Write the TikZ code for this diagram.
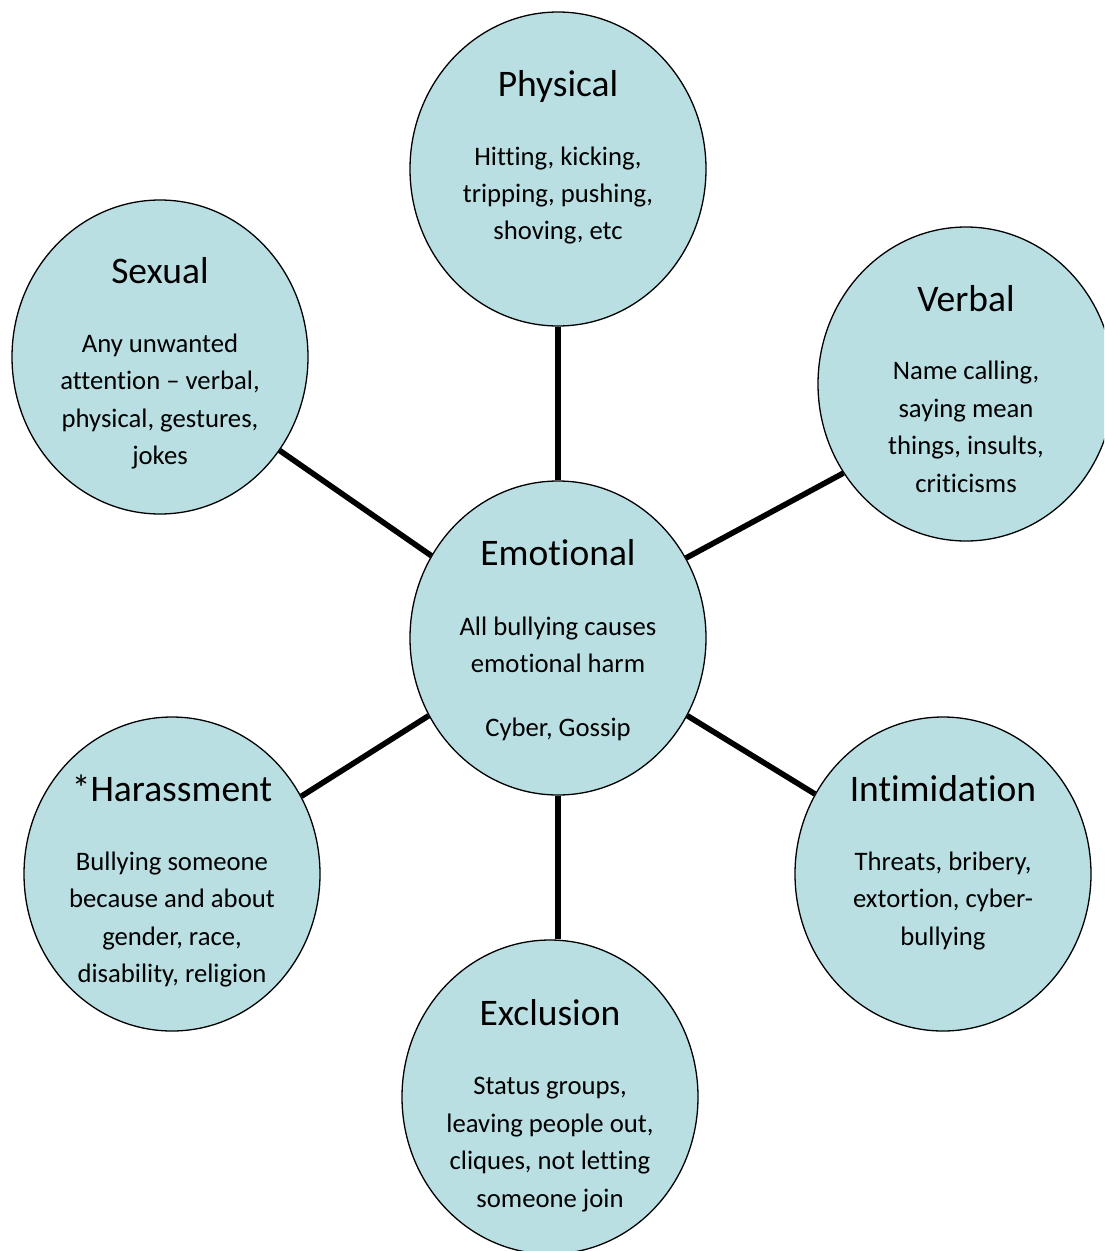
\documentclass[tikz,border=0pt]{standalone}
\usepackage{fontspec}
\setmainfont{Carlito}[Ligatures={NoCommon}]
\usetikzlibrary{shapes.geometric}
\definecolor{bubble}{RGB}{185,223,227}
\tikzset{
  bub/.style={ellipse, draw=black, line width=1.3pt, fill=bubble, inner sep=0pt,
              minimum width=296pt, minimum height=314pt},
  ttl/.style={anchor=base, inner sep=0pt, font=\fontsize{37.5}{40}\selectfont},
  txt/.style={anchor=base, inner sep=0pt, font=\fontsize{26.7}{30}\selectfont},
  link/.style={line width=5.6pt, black}
}
\begin{document}
\begin{tikzpicture}[x=1pt,y=-1pt]
\clip (0,0) rectangle (1104,1251);
\fill[white] (0,0) rectangle (1104,1251);
% bubbles
\node[bub] (phys) at (558,169) {};
\node[bub] (sex)  at (160,357) {};
\node[bub] (verb) at (966,384) {};
\node[bub] (emo)  at (558,638) {};
\node[bub] (har)  at (172,874) {};
\node[bub] (intim) at (943,874) {};
\node[bub] (excl) at (550,1097) {};
% connectors
\draw[link] (emo.90) -- (phys.270);
\draw[link] (emo.147.8) -- (sex.-38.8);
\draw[link] (emo.32) -- (verb.216.6);
\draw[link] (emo.211.7) -- (har.31);
\draw[link] (emo.-31.3) -- (intim.148.6);
\coordinate (exTop) at (emo.south |- excl.north);
\draw[link] (emo.south) -- (exTop);
% Physical
\node[ttl] (physT) at (558,96) {Physical};
\node[txt] (phys1) at (558,165) {Hitting, kicking,};
\node[txt] (phys2) at (558,202) {tripping, pushing,};
\node[txt] (phys3) at (558,239) {shoving, etc};
% Sexual
\node[ttl] (sexT) at (160,283) {Sexual};
\node[txt] (sex1) at (160,352) {Any unwanted};
\node[txt] (sex2) at (160,389) {attention – verbal,};
\node[txt] (sex3) at (160,427) {physical, gestures,};
\node[txt] (sex4) at (160,464) {jokes};
% Verbal
\node[ttl] (verbT) at (966,311) {Verbal};
\node[txt] (verb1) at (966,379) {Name calling,};
\node[txt] (verb2) at (966,417) {saying mean};
\node[txt] (verb3) at (966,454) {things, insults,};
\node[txt] (verb4) at (966,492) {criticisms};
% Emotional
\node[ttl] (emoT) at (558,565) {Emotional};
\node[txt] (emo1) at (558,635) {All bullying causes};
\node[txt] (emo2) at (558,672) {emotional harm};
\node[txt] (emo3) at (558,736) {Cyber, Gossip};
% Harassment
\node[ttl] (harT) at (172,801) {*Harassment};
\node[txt] (har1) at (172,870) {Bullying someone};
\node[txt] (har2) at (172,907) {because and about};
\node[txt] (har3) at (172,945) {gender, race,};
\node[txt] (har4) at (172,982) {disability, religion};
% Intimidation
\node[ttl] (intimT) at (943,801) {Intimidation};
\node[txt] (intim1) at (943,870) {Threats, bribery,};
\node[txt] (intim2) at (943,907) {extortion, cyber-};
\node[txt] (intim3) at (943,945) {bullying};
% Exclusion
\node[ttl] (exclT) at (550,1025) {Exclusion};
\node[txt] (excl1) at (550,1094) {Status groups,};
\node[txt] (excl2) at (550,1132) {leaving people out,};
\node[txt] (excl3) at (550,1169) {cliques, not letting};
\node[txt] (excl4) at (550,1207) {someone join};
\end{tikzpicture}
\end{document}
